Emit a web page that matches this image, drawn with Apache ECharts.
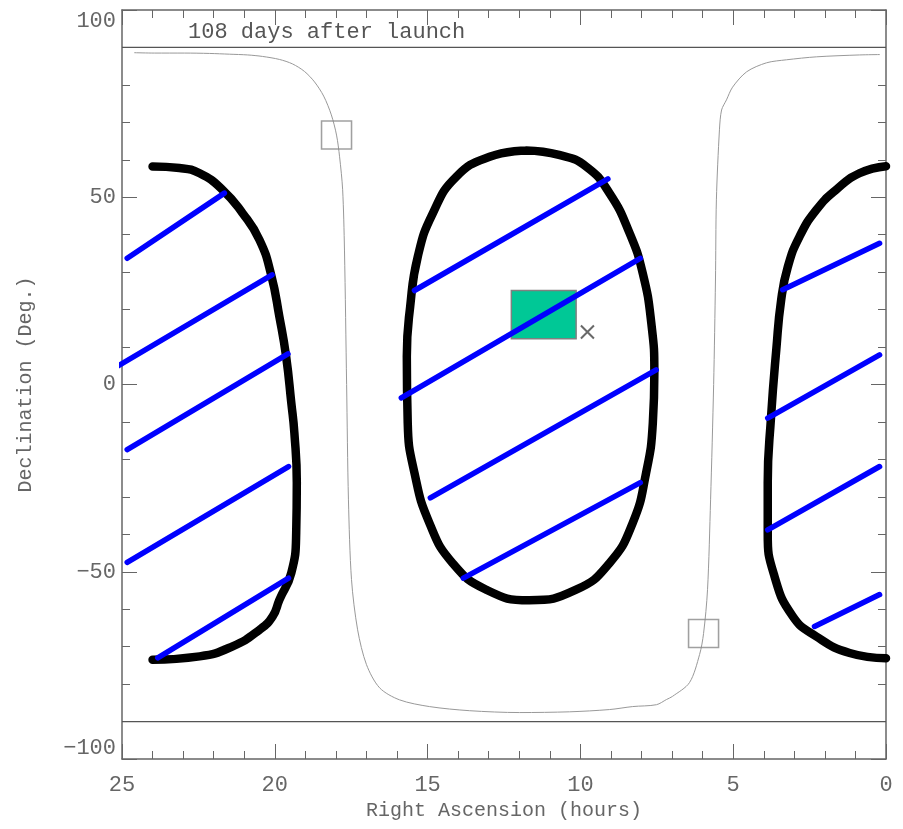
<!DOCTYPE html>
<html>
<head>
<meta charset="utf-8">
<style>
  html, body { margin: 0; padding: 0; background: #fff; }
  #chart { width: 903px; height: 829px; }
</style>
</head>
<body>
<div id="chart"></div>
<script src="https://cdn.jsdelivr.net/npm/echarts@6/dist/echarts.min.js"></script>
<script>
// RA (hours), Dec (deg)
var leftOval = [[24.0,58.2],[23.12,57.8],[22.46,56.4],[21.71,52.0],[21.06,45.8],[20.5,38.6],[20.12,29.3],[19.85,18.1],[19.63,7.5],[19.46,-4.9],[19.36,-12.9],[19.28,-26.2],[19.3,-39.6],[19.46,-50.3],[19.85,-57.5],[20.07,-61.9],[20.5,-65.5],[21.38,-69.9],[22.46,-72.6],[24.0,-73.5]];
var centerOval = [[11.77,62.5],[12.97,60.8],[14.06,55.5],[14.83,45.7],[15.32,34.2],[15.57,20.8],[15.68,7.5],[15.65,-10.3],[15.43,-23.6],[14.94,-37.0],[14.18,-47.7],[13.08,-54.8],[11.67,-57.6],[10.14,-54.8],[9.05,-47.7],[8.29,-37.0],[7.85,-23.6],[7.63,-10.3],[7.58,3.0],[7.68,16.4],[7.96,29.7],[8.39,40.4],[9.05,51.1],[9.81,58.2],[10.7,61.3],[11.77,62.5]];
var rightOval = [[0,58.3],[0.87,56.4],[1.63,52.0],[2.28,46.6],[2.83,39.5],[3.21,31.5],[3.43,22.6],[3.59,9.3],[3.76,-8.5],[3.87,-26.3],[3.87,-39.7],[3.65,-51.2],[3.05,-61.9],[2.28,-67.3],[1.19,-71.7],[0,-73.1]];

var blueLines = [
  [[24.83,33.7],[21.65,51.1]],
  [[25.35,3.9],[20.09,29.3]],
  [[24.83,-17.4],[19.57,8.2]],
  [[24.83,-47.5],[19.55,-21.9]],
  [[23.83,-73.0],[19.55,-51.7]],
  [[15.43,25.1],[9.10,54.9]],
  [[15.86,-3.6],[8.04,33.7]],
  [[14.91,-30.3],[7.52,3.9]],
  [[13.83,-51.7],[8.04,-26.2]],
  [[3.38,25.3],[0.21,37.7]],
  [[3.87,-9.0],[0.21,7.9]],
  [[3.87,-38.8],[0.21,-21.9]],
  [[2.34,-64.6],[0.21,-56.1]]
];

var poleCurve = [[24.6,88.6],[23.94,88.5],[22.96,88.5],[22.14,88.4],[21.48,88.2],[20.89,88.0],[20.4,87.6],[19.85,86.8],[19.42,85.6],[19.03,83.6],[18.7,80.8],[18.4,77.0],[18.15,72.0],[17.98,66.6],[17.88,60.8],[17.78,52.0],[17.72,35.9],[17.65,0],[17.59,-30.8],[17.49,-52.1],[17.29,-65.5],[17.0,-74.8],[16.57,-81.0],[15.92,-84.2],[14.94,-86.0],[13.63,-87.1],[11.99,-87.6],[10.36,-87.4],[9.05,-86.8],[8.29,-86.0],[7.51,-85.5],[7.18,-84.1],[6.99,-83.3],[6.43,-79.6],[6.10,-72.1],[5.97,-66.5],[5.84,-54.8],[5.74,-30.8],[5.64,0],[5.58,27.9],[5.55,49.3],[5.45,68.0],[5.38,73.3],[5.22,76.0],[5.02,79.4],[4.56,83.5],[3.91,85.9],[3.26,86.7],[2.27,87.5],[0.87,88.0],[0.2,88.1]];

var limitDecs = [90, -90];
var poleBoxes = [[17.98,66.6],[5.97,-66.5]];
var fieldRA = [10.14, 12.26];
var fieldDec = [12.2, 25.1];
var crossPoint = [[9.77,14.0]];

var chart = echarts.init(document.getElementById('chart'));
var FONT = 'Liberation Mono';
var AXC = '#666';

function axisBase(pos, labels) {
  return {
    type: 'value', position: pos,
    axisLine: { show: true, onZero: false, lineStyle: { color: AXC, width: 1.5 } },
    axisTick: { show: true, inside: true, length: 15, lineStyle: { color: AXC, width: 1 } },
    minorTick: { show: true, splitNumber: 5, length: 8, lineStyle: { color: AXC, width: 1 } },
    splitLine: { show: false },
    minorSplitLine: { show: false },
    axisLabel: labels ? {
      fontFamily: FONT, fontSize: 22, color: '#666',
      formatter: function (v) { return String(v).replace('-', '\u2212'); }
    } : { show: false }
  };
}

var xBottom = axisBase('bottom', true);
xBottom.min = 0; xBottom.max = 25; xBottom.interval = 5; xBottom.inverse = true;
xBottom.axisLabel.margin = 15;
xBottom.name = 'Right Ascension (hours)';
xBottom.nameLocation = 'middle';
xBottom.nameGap = 38;
xBottom.nameTextStyle = { fontFamily: FONT, fontSize: 20, color: '#666' };

var xTop = axisBase('top', false);
xTop.min = 0; xTop.max = 25; xTop.interval = 5; xTop.inverse = true;

var yLeft = axisBase('left', true);
yLeft.min = -100; yLeft.max = 100; yLeft.interval = 50;
yLeft.axisLabel.margin = 6;
yLeft.axisLabel.verticalAlignMaxLabel = 'top';
yLeft.axisLabel.verticalAlignMinLabel = 'bottom';
yLeft.name = 'Declination (Deg.)';
yLeft.nameLocation = 'middle';
yLeft.nameRotate = 90;
yLeft.nameGap = 86;
yLeft.nameTextStyle = { fontFamily: FONT, fontSize: 20, color: '#666' };

var yRight = axisBase('right', false);
yRight.min = -100; yRight.max = 100; yRight.interval = 50;

var series = [];

limitDecs.forEach(function (d) {
  series.push({
    type: 'line', data: [[25, d], [0, d]], symbol: 'none', z: 1,
    lineStyle: { color: '#555', width: 1.2 }
  });
});

series.push({
  type: 'line', data: poleCurve, symbol: 'none', z: 1, smooth: 0.3,
  lineStyle: { color: '#999', width: 1 }
});

[leftOval, centerOval, rightOval].forEach(function (o) {
  series.push({
    type: 'line', data: o, symbol: 'none', smooth: 0.5, z: 2,
    lineStyle: { color: '#000', width: 8.5, cap: 'round', join: 'round' }
  });
});

series.push({
  type: 'line', data: [], symbol: 'none', z: 3,
  markArea: {
    silent: true,
    itemStyle: { color: '#00c896', borderColor: '#808080', borderWidth: 1.5, opacity: 1 },
    data: [[{ coord: [fieldRA[1], fieldDec[1]] }, { coord: [fieldRA[0], fieldDec[0]] }]]
  }
});

blueLines.forEach(function (seg) {
  series.push({
    type: 'line', data: seg, symbol: 'none', clip: false, z: 4,
    lineStyle: { color: '#0000ff', width: 5.5, cap: 'round' }
  });
});

series.push({
  type: 'scatter', data: poleBoxes, symbol: 'rect', symbolSize: [30, 28], z: 5,
  itemStyle: { color: 'rgba(0,0,0,0)', borderColor: '#888', borderWidth: 1.5 }
});

series.push({
  type: 'scatter', data: crossPoint, symbol: 'path://M0,0L10,10M10,0L0,10', symbolSize: 13, z: 6,
  itemStyle: { color: 'rgba(0,0,0,0)', borderColor: '#444', borderWidth: 2 }
});

chart.setOption({
  animation: false,
  backgroundColor: '#fff',
  title: {
    text: '108 days after launch', left: 183, top: 16,
    textStyle: { fontFamily: FONT, fontSize: 22, fontWeight: 'normal', color: '#555' }
  },
  grid: { left: 122, right: 17, top: 10, bottom: 70, containLabel: false, outerBoundsMode: 'none' },
  xAxis: [xBottom, xTop],
  yAxis: [yLeft, yRight],
  series: series
});
</script>
</body>
</html>
